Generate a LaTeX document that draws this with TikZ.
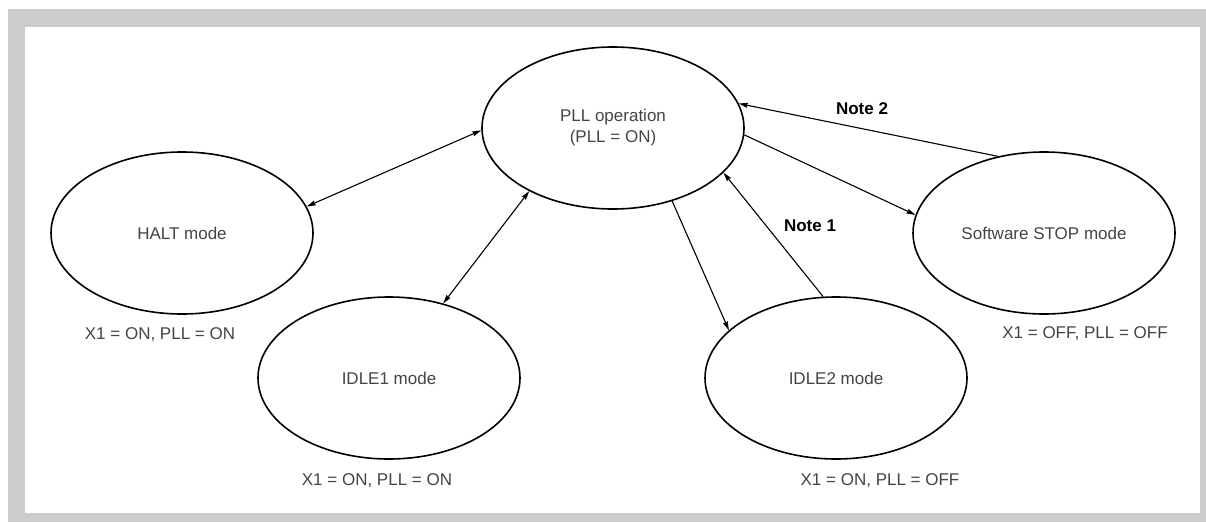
\documentclass[tikz,border=0pt]{standalone}
\usepackage{fontspec}
\setmainfont{Liberation Sans}
\usetikzlibrary{shapes.geometric,arrows.meta}
\definecolor{txtgray}{HTML}{444444}
\definecolor{framegray}{HTML}{CCCCCC}
\begin{document}
\begin{tikzpicture}[x=1pt,y=-1pt,
  state/.style={ellipse,draw=black,line width=1.6pt,minimum width=262pt,minimum height=162pt,inner sep=0pt,text=txtgray,font=\fontsize{17}{21}\selectfont,align=center},
  cond/.style={text=txtgray,font=\fontsize{17}{21}\selectfont,inner sep=0pt},
  note/.style={font=\fontsize{17}{21}\selectfont\bfseries,text=black,inner sep=0pt},
  conn/.style={line width=1.1pt,-{Stealth[length=9pt,width=5pt,inset=1pt]}},
  bconn/.style={line width=1.1pt,{Stealth[length=9pt,width=5pt,inset=1pt]}-{Stealth[length=9pt,width=5pt,inset=1pt]}}
]
\useasboundingbox (0,0) rectangle (1206,522);
\fill[framegray] (8,9) rectangle (1206,522);
\fill[white] (25,27) rectangle (1200,513);

\node[state] (pll) at (613,128) {PLL operation\\(PLL = ON)};
\node[state] (halt) at (182,233) {HALT mode};
\node[state] (idle1) at (389,378) {IDLE1 mode};
\node[state] (idle2) at (836,378) {IDLE2 mode};
\node[state] (stop) at (1044,233) {Software STOP mode};

\node[cond] (chalt) at (160,335) {X1 = ON, PLL = ON};
\node[cond] (cidle1) at (377,481) {X1 = ON, PLL = ON};
\node[cond] (cidle2) at (880,481) {X1 = ON, PLL = OFF};
\node[cond] (cstop) at (1085,334) {X1 = OFF, PLL = OFF};

\draw[bconn] (halt.12.8) -- (pll.181);
\draw[bconn] (idle1.54.8) -- (pll.217);
\draw[conn] (pll.309.3) -- (idle2.156);
\draw[conn] (idle2.99.2) -- (pll.338.9);
\draw[conn] (pll.357) -- (stop.172.5);
\draw[conn] (stop.121.5) -- (pll.11.3);

\node[note] (n1) at (810,226) {Note 1};
\node[note] (n2) at (862,109) {Note 2};
\end{tikzpicture}
\end{document}
